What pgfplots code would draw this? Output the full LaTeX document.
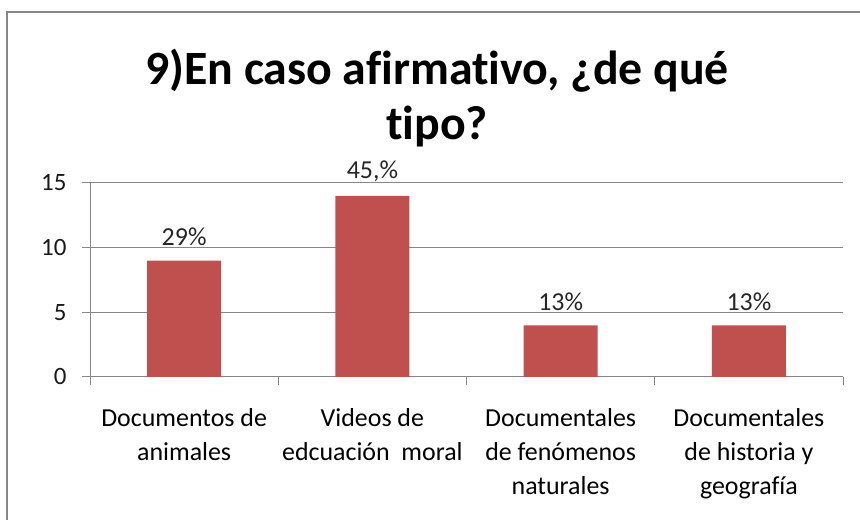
\documentclass[border=0pt]{standalone}
\usepackage{pgfplots}
\pgfplotsset{compat=1.18}
\usepackage{fontspec}
\setmainfont{Carlito}[Ligatures=NoCommon]
\definecolor{barred}{RGB}{192,80,77}
\definecolor{axgray}{RGB}{134,134,134}
\begin{document}
\begin{tikzpicture}[x=1bp,y=1bp]
\useasboundingbox (0,0) rectangle (860,520);
\fill[white] (0,0) rectangle (860,520);
\draw[axgray, line width=1.5bp] (7,0) -- (7,508) -- (860,508);
\node[font=\bfseries\fontsize{48}{56}\selectfont, align=center] at (437,422) {9)En caso afirmativo, ¿de qué\\tipo?};
\begin{axis}[
  at={(90bp,143bp)}, anchor=south west,
  scale only axis, width=753bp, height=194bp,
  xmin=0.5, xmax=4.5, ymin=0, ymax=15,
  ytick={0,5,10,15},
  xtick={0.5,1.5,2.5,3.5,4.5}, xticklabels={},
  extra x ticks={1,2,3,4},
  extra x tick labels={Documentos de\\animales, Videos de\\edcuación\ \ moral, Documentales\\de fenómenos\\naturales, Documentales\\de historia y\\geografía},
  extra x tick style={major tick length=0pt, grid=none,
    tick label style={align=center, font=\fontsize{26}{34}\selectfont, anchor=north, yshift=-28bp}},
  axis x line*=bottom, axis y line*=left,
  axis line style={axgray, line width=1pt},
  tick style={axgray, line width=1pt},
  tick align=outside, major tick length=8bp,
  ymajorgrids, grid style={axgray, line width=1pt},
  yticklabel style={font=\fontsize{25}{30}\selectfont, xshift=-12bp, black!90},
  /pgf/number format/assume math mode=true,
  ybar, bar width=74bp,
  nodes near coords, point meta=explicit symbolic,
  every node near coord/.append style={font=\fontsize{26}{30}\selectfont, yshift=11bp, black!85},
]
\addplot[fill=barred, draw=none] coordinates {(1,9) [29\%] (2,14) [45,\%] (3,4) [13\%] (4,4) [13\%]};
\end{axis}
\end{tikzpicture}
\end{document}
